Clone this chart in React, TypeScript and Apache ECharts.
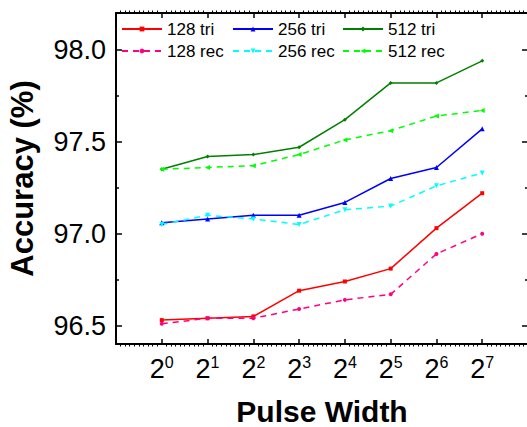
import React, { useEffect, useRef } from "react";
import * as echarts from "echarts";

const exponents = [0, 1, 2, 3, 4, 5, 6, 7];
const tri128 = [96.53, 96.54, 96.55, 96.69, 96.74, 96.81, 97.03, 97.22];
const rec128 = [96.51, 96.54, 96.54, 96.59, 96.64, 96.67, 96.89, 97.0];
const tri256 = [97.06, 97.08, 97.1, 97.1, 97.17, 97.3, 97.36, 97.57];
const rec256 = [97.05, 97.1, 97.08, 97.05, 97.13, 97.15, 97.26, 97.33];
const tri512 = [97.35, 97.42, 97.43, 97.47, 97.62, 97.82, 97.82, 97.94];
const rec512 = [97.35, 97.36, 97.37, 97.43, 97.51, 97.56, 97.64, 97.67];
const yMajor = [96.5, 97.0, 97.5, 98.0];
const yMinor = [96.75, 97.25, 97.75];

const FONT = "Liberation Sans, Arial, sans-serif";

export default function App() {
  const ref = useRef<HTMLDivElement>(null);
  useEffect(() => {
    if (!ref.current) return;
    const chart = echarts.init(ref.current, null, { renderer: "svg" });
    const mk = (
      name: string,
      vals: number[],
      color: string,
      dashed: boolean,
      symbol: string,
      rotate: number,
      size: number
    ) => ({
      name,
      type: "line",
      xAxisIndex: 0,
      yAxisIndex: 0,
      data: exponents.map((e, i) => [e, vals[i]]),
      symbol,
      symbolSize: size,
      symbolRotate: rotate,
      showSymbol: true,
      lineStyle: { color, width: 1.5, type: dashed ? [6, 5] : "solid" },
      itemStyle: { color },
    });
    const yCommon = {
      type: "value",
      min: 96.4,
      max: 98.2,
      splitLine: { show: false },
    };
    const xCommon = {
      type: "value",
      min: -1,
      max: 8,
      interval: 1,
      splitLine: { show: false },
      minorSplitLine: { show: false },
    };
    const xMinorAxis = (position: string) => ({
      ...xCommon,
      position,
      axisLine: { show: false, onZero: false },
      axisTick: { show: false },
      minorTick: { show: true, splitNumber: 10, length: 2.5, lineStyle: { color: "#000", width: 1 } },
      axisLabel: { show: false },
    });
    const legendCommon = {
      orient: "vertical",
      top: 19,
      padding: 0,
      itemWidth: 40,
      itemHeight: 6,
      itemGap: 2,
      textStyle: { fontFamily: FONT, fontSize: 17, color: "#000", lineHeight: 20 },
    };
    chart.setOption({
      animation: false,
      backgroundColor: "#fff",
      grid: { left: 116, top: 13, width: 412, height: 331, containLabel: false, outerBoundsMode: "none" },
      legend: [
        { ...legendCommon, left: 121, data: ["128 tri", "128 rec"] },
        { ...legendCommon, left: 232, data: ["256 tri", "256 rec"] },
        { ...legendCommon, left: 342, data: ["512 tri", "512 rec"] },
      ],
      xAxis: [
        {
          ...xCommon,
          position: "bottom",
          axisLine: { onZero: false, lineStyle: { color: "#000", width: 2 } },
          axisTick: { inside: true, length: 5, customValues: exponents, lineStyle: { color: "#000", width: 1.5 } },
          axisLabel: {
            customValues: exponents,
            margin: 10,
            formatter: (v: number) => `{b|2}{s|${v}}`,
            rich: {
              b: { fontFamily: FONT, fontSize: 27, color: "#000", lineHeight: 30 },
              s: { fontFamily: FONT, fontSize: 16, color: "#000", lineHeight: 30, verticalAlign: "top" },
            },
          },
          name: "Pulse Width",
          nameLocation: "middle",
          nameGap: 52,
          nameTextStyle: { fontFamily: FONT, fontSize: 30, lineHeight: 30, fontWeight: "bold", color: "#000" },
        },
        {
          ...xCommon,
          position: "top",
          axisLine: { onZero: false, lineStyle: { color: "#000", width: 2 } },
          axisTick: { inside: true, length: 5, customValues: exponents, lineStyle: { color: "#000", width: 1.5 } },
          axisLabel: { show: false },
        },
        xMinorAxis("bottom"),
        xMinorAxis("top"),
      ],
      yAxis: [
        {
          ...yCommon,
          position: "left",
          axisLine: { onZero: false, lineStyle: { color: "#000", width: 2 } },
          axisTick: { inside: true, length: 6, customValues: yMajor, lineStyle: { color: "#000", width: 1.5 } },
          axisLabel: {
            customValues: yMajor,
            margin: 10,
            formatter: (v: number) => v.toFixed(1),
            fontFamily: FONT,
            fontSize: 27,
            color: "#000",
          },
          name: "Accuracy (%)",
          nameLocation: "middle",
          nameGap: 78,
          nameTextStyle: { fontFamily: FONT, fontSize: 31, fontWeight: "bold", color: "#000" },
        },
        {
          ...yCommon,
          position: "left",
          axisLine: { show: false, onZero: false },
          axisTick: { inside: true, length: 3, customValues: yMinor, lineStyle: { color: "#000", width: 1.5 } },
          axisLabel: { show: false },
        },
        {
          ...yCommon,
          position: "right",
          axisLine: { onZero: false, lineStyle: { color: "#000", width: 2 } },
          axisTick: { inside: true, length: 6, customValues: yMajor, lineStyle: { color: "#000", width: 1.5 } },
          axisLabel: { show: false },
        },
        {
          ...yCommon,
          position: "right",
          axisLine: { show: false, onZero: false },
          axisTick: { inside: true, length: 3, customValues: yMinor, lineStyle: { color: "#000", width: 1.5 } },
          axisLabel: { show: false },
        },
      ],
      series: [
        mk("128 tri", tri128, "#ff0000", false, "rect", 0, 4),
        mk("128 rec", rec128, "#ff0080", true, "circle", 0, 4),
        mk("256 tri", tri256, "#0000ff", false, "triangle", 0, 5),
        mk("256 rec", rec256, "#00ffff", true, "triangle", 180, 5),
        mk("512 tri", tri512, "#008000", false, "diamond", 0, 4),
        mk("512 rec", rec512, "#00ff00", true, "triangle", 90, 5),
      ],
    });
    return () => chart.dispose();
  }, []);
  return (
    <div style={{ position: "fixed", left: 0, top: 0, width: 527, height: 427, overflow: "hidden", background: "#fff" }}>
      <div ref={ref} style={{ width: 540, height: 427 }} />
    </div>
  );
}
